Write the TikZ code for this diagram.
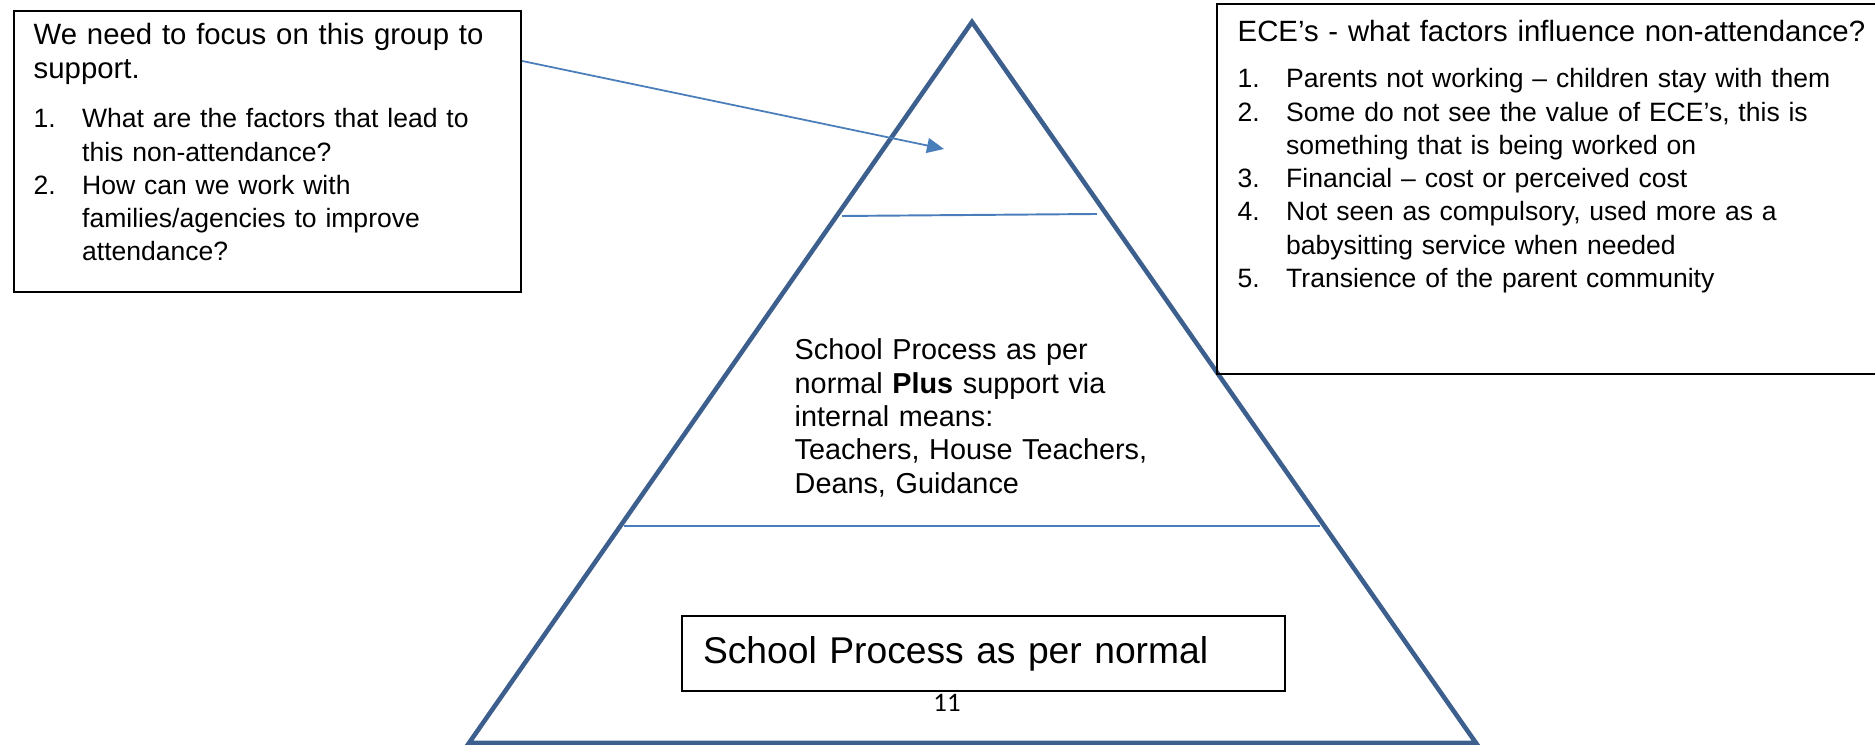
\documentclass[tikz,border=0pt]{standalone}
\usepackage{fontspec}
\setmainfont{Liberation Sans}
\newfontfamily\pagenumfont{Carlito}
\usepackage{tikz}
\usetikzlibrary{arrows.meta}

\definecolor{pyrblue}{HTML}{3C5F8E}
\definecolor{lineblue}{HTML}{4A7EBB}

% fonts of the text boxes
\newcommand{\headfont}{\fontsize{8.35}{9.6}\selectfont}
\newcommand{\listfont}{\fontsize{7.55}{9.45}\selectfont}
\newcommand{\midfont}{\fontsize{8.2}{9.47}\selectfont}
% numbered lines with a hanging indent
\newcommand{\num}[1]{\makebox[0.485cm][l]{#1}}
\newcommand{\cont}{\hspace*{0.485cm}}

\tikzset{
	box/.style={draw=black, line width=0.6pt, inner sep=0pt},
	boxtext/.style={anchor=base west, inner sep=0pt, align=left, text width=#1},
	pyramid/.style={draw=pyrblue, line width=1.3pt},
	divider/.style={draw=lineblue, line width=0.55pt},
	pointer/.style={draw=lineblue, line width=0.5pt, -{Triangle[length=0.17cm, width=0.15cm]}}
}

\begin{document}
\begin{tikzpicture}
	\useasboundingbox (0,0) rectangle (18.75,7.45);

	% the pyramid and its levels
	\coordinate (apex) at (9.72,7.23);
	\coordinate (baseL) at (4.69,0.02);
	\coordinate (baseR) at (14.76,0.02);
	\draw[pyramid] (apex) -- (baseR) -- (baseL) -- cycle;
	\draw[divider] (8.42,5.29) -- (10.97,5.31);
	\draw[divider] (6.24,2.19) -- (13.20,2.19);

	% middle level
	\node[boxtext=4.2cm, font=\midfont] (midtext) at (7.94,3.85)
		{School Process as per\\
		normal \textbf{Plus} support via\\
		internal means:\\
		Teachers, House Teachers,\\
		Deans, Guidance};

	% bottom level
	\node[box, minimum width=6.03cm, minimum height=0.75cm, text width=5.61cm,
		align=left, inner xsep=0.21cm, font=\fontsize{10.6}{12}\selectfont]
		(normalbox) at (9.835,0.915) {School Process as per normal};
	\node[anchor=base, inner sep=0pt, font=\pagenumfont\fontsize{7.6}{9}\selectfont]
		(pagenum) at (9.47,0.33) {11};

	% left note
	\node[box, anchor=north west, minimum width=5.07cm, minimum height=2.81cm]
		(focusbox) at (0.13,7.35) {};
	\node[boxtext=4.8cm, font=\headfont] (focushead)
		at ([shift={(0.20,-0.35)}]focusbox.north west)
		{We need to focus on this group to\\support.};
	\node[boxtext=4.8cm, font=\listfont] (focuslist)
		at ([shift={(0.20,-1.18)}]focusbox.north west)
		{\num{1.}What are the factors that lead to\\
		\cont this non-attendance?\\
		\num{2.}How can we work with\\
		\cont families/agencies to improve\\
		\cont attendance?};

	% right note
	\node[box, anchor=north west, minimum width=6.9cm, minimum height=3.70cm]
		(ecebox) at (12.16,7.42) {};
	\node[boxtext=6.5cm, font=\headfont] (ecehead)
		at ([shift={(0.21,-0.39)}]ecebox.north west)
		{ECE’s - what factors influence non-attendance?};
	\node[boxtext=6.5cm, font=\listfont] (ecelist)
		at ([shift={(0.21,-0.85)}]ecebox.north west)
		{\num{1.}Parents not working – children stay with them\\
		\num{2.}Some do not see the value of ECE’s, this is\\
		\cont something that is being worked on\\
		\num{3.}Financial – cost or perceived cost\\
		\num{4.}Not seen as compulsory, used more as a\\
		\cont babysitting service when needed\\
		\num{5.}Transience of the parent community};

	% arrow into the top level
	\coordinate (tip) at (9.44,5.96);
	\draw[pointer] ([yshift=-0.51cm]focusbox.north east) -- (tip);
\end{tikzpicture}
\end{document}
